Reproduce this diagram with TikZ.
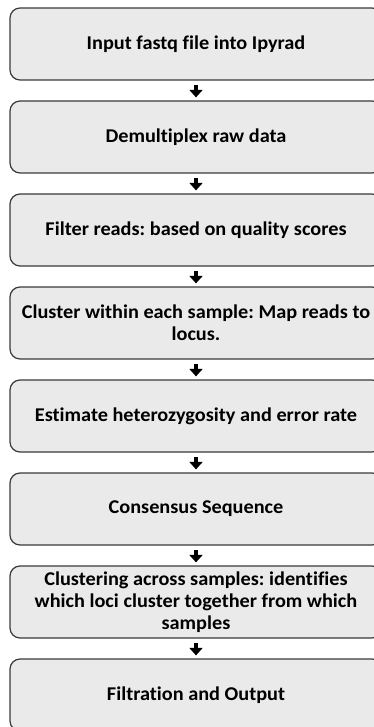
\documentclass[tikz,border=0pt]{standalone}
\usepackage{fontspec}
\setmainfont{Carlito}[Ligatures={NoCommon,NoRequired,NoContextual},FakeStretch=1.04]
\usetikzlibrary{arrows.meta}
\definecolor{boxfill}{RGB}{234,234,234}
\definecolor{boxline}{RGB}{58,58,58}
\tikzset{
  stepbox/.style={draw=boxline, line width=1.2pt, fill=boxfill, rounded corners=10pt,
    minimum width=372pt, minimum height=72pt, align=center, inner sep=0pt,
    font=\fontsize{19.5}{22}\selectfont\bfseries\frenchspacing},
  flowarrow/.style={line width=4.5pt, -{Triangle[width=13pt,length=7.5pt]}, shorten <=4pt, shorten >=3pt}
}
\begin{document}
\begin{tikzpicture}[x=1pt,y=1pt]
\useasboundingbox (0,0) rectangle (374,-727);
\begin{scope}
\clip (0,0) rectangle (374,-727);
\node[stepbox] (b1) at (196,-44) {Input fastq file into Ipyrad};
\node[stepbox] (b2) at (196,-137) {Demultiplex raw data};
\node[stepbox] (b3) at (196,-230) {Filter reads: based on quality scores};
\node[stepbox] (b4) at (196,-323) {Cluster within each sample: Map reads to\\locus.};
\node[stepbox] (b5) at (196,-416) {Estimate heterozygosity and error rate};
\node[stepbox] (b6) at (196,-509) {Consensus Sequence};
\node[stepbox] (b7) at (196,-602) {Clustering across samples: identifies\\which loci cluster together from which\\samples};
\node[stepbox] (b8) at (196,-695) {Filtration and Output};
\end{scope}
\foreach \a/\b in {b1/b2,b2/b3,b3/b4,b4/b5,b5/b6,b6/b7,b7/b8}
  \draw[flowarrow] (\a.south) -- (\b.north);
\end{tikzpicture}
\end{document}
